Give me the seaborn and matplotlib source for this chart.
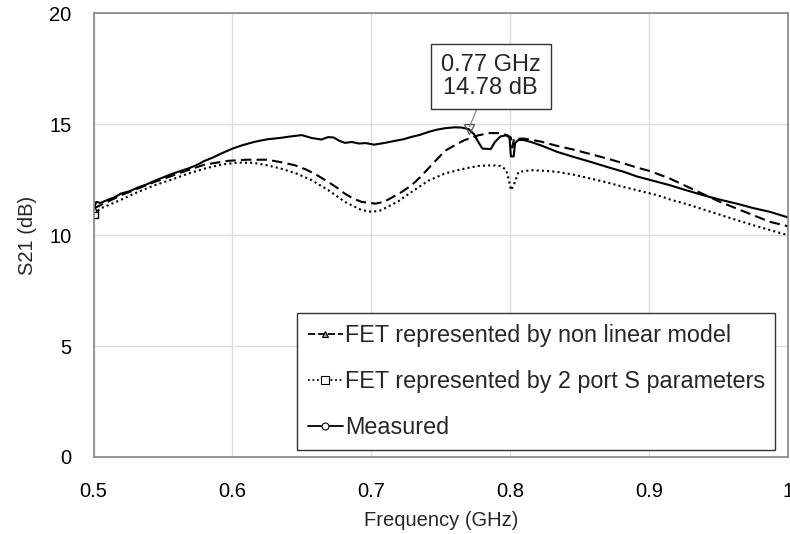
import numpy as np
import pandas as pd
import matplotlib
matplotlib.use("Agg")
import matplotlib.pyplot as plt
from matplotlib.lines import Line2D
import seaborn as sns

# ---- data -------------------------------------------------------------
meas_f = [0.500, 0.502, 0.505, 0.5105, 0.515, 0.520, 0.526, 0.532, 0.538, 0.544,
          0.550, 0.556, 0.562, 0.568, 0.574, 0.580, 0.586, 0.592, 0.600, 0.607,
          0.6155, 0.625, 0.634, 0.642, 0.650, 0.657, 0.664, 0.669, 0.673, 0.677,
          0.681, 0.686, 0.691, 0.696, 0.702, 0.709, 0.717, 0.723, 0.729, 0.735,
          0.741, 0.747, 0.753, 0.760, 0.765, 0.770, 0.774, 0.777, 0.780, 0.786,
          0.789, 0.793, 0.797, 0.7995, 0.8005, 0.8025, 0.8035, 0.806, 0.810, 0.815,
          0.822, 0.834, 0.846, 0.858, 0.870, 0.882, 0.891, 0.900, 0.915, 0.927,
          0.939, 0.951, 0.963, 0.975, 0.987, 1.000]
meas_db = [11.15, 11.50, 11.45, 11.60, 11.70, 11.88, 11.98, 12.15, 12.28, 12.45,
           12.60, 12.75, 12.88, 13.00, 13.15, 13.35, 13.50, 13.68, 13.90, 14.05,
           14.20, 14.32, 14.38, 14.45, 14.51, 14.38, 14.31, 14.42, 14.40, 14.25,
           14.16, 14.20, 14.13, 14.15, 14.08, 14.15, 14.25, 14.32, 14.43, 14.52,
           14.65, 14.75, 14.82, 14.86, 14.85, 14.78, 14.55, 14.20, 13.90, 13.88,
           14.20, 14.45, 14.50, 14.40, 13.55, 13.55, 14.15, 14.30, 14.28, 14.20,
           14.05, 13.75, 13.52, 13.30, 13.07, 12.85, 12.65, 12.50, 12.25, 12.02,
           11.80, 11.60, 11.42, 11.22, 11.05, 10.80]

nl_f = [0.500, 0.520, 0.544, 0.568, 0.580, 0.597, 0.610, 0.625, 0.634, 0.645,
        0.653, 0.661, 0.669, 0.675, 0.681, 0.687, 0.693, 0.703, 0.709, 0.715,
        0.722, 0.729, 0.735, 0.741, 0.747, 0.753, 0.760, 0.767, 0.777, 0.785,
        0.792, 0.798, 0.8005, 0.8015, 0.8028, 0.810, 0.822, 0.834, 0.846, 0.858,
        0.870, 0.882, 0.891, 0.900, 0.915, 0.927, 0.939, 0.951, 0.963, 0.975,
        0.987, 1.000]
nl_db = [11.20, 11.80, 12.40, 12.93, 13.18, 13.35, 13.40, 13.40, 13.30, 13.15,
         12.96, 12.70, 12.40, 12.15, 11.87, 11.65, 11.50, 11.42, 11.50, 11.70,
         11.95, 12.25, 12.60, 13.00, 13.40, 13.80, 14.05, 14.28, 14.50, 14.60,
         14.60, 14.50, 14.40, 13.95, 14.35, 14.35, 14.22, 14.02, 13.85, 13.65,
         13.45, 13.23, 13.05, 12.90, 12.55, 12.20, 11.85, 11.50, 11.20, 10.90,
         10.60, 10.40]

sp_f = [0.500, 0.505, 0.520, 0.532, 0.544, 0.556, 0.568, 0.580, 0.592, 0.604,
        0.615, 0.625, 0.635, 0.646, 0.657, 0.669, 0.681, 0.693, 0.700, 0.706,
        0.712, 0.720, 0.729, 0.741, 0.753, 0.767, 0.777, 0.787, 0.793, 0.797,
        0.799, 0.8005, 0.803, 0.806, 0.815, 0.825, 0.834, 0.846, 0.858, 0.870,
        0.882, 0.891, 0.906, 0.915, 0.927, 0.939, 0.951, 0.963, 0.975, 0.987,
        1.000]
sp_db = [10.95, 11.20, 11.60, 11.95, 12.25, 12.50, 12.77, 13.00, 13.18, 13.27,
         13.26, 13.15, 13.00, 12.78, 12.48, 12.03, 11.50, 11.13, 11.05, 11.10,
         11.28, 11.55, 11.95, 12.45, 12.78, 13.00, 13.12, 13.15, 13.12, 12.95,
         12.50, 12.03, 12.33, 12.85, 12.93, 12.90, 12.85, 12.72, 12.55, 12.37,
         12.17, 12.03, 11.80, 11.61, 11.40, 11.16, 10.92, 10.68, 10.45, 10.23,
         10.00]

marker_f, marker_db = 0.77, 14.78
x_ticks = [0.5, 0.6, 0.7, 0.8, 0.9, 1.0]
x_tick_labels = ["0.5", "0.6", "0.7", "0.8", "0.9", "1"]
y_ticks = [0, 5, 10, 15, 20]

labels = ["FET represented by non linear model",
          "FET represented by 2 port S parameters",
          "Measured"]

# ---- style ------------------------------------------------------------
sns.set_theme(style="whitegrid")
plt.rcParams["font.family"] = ["Liberation Sans", "DejaVu Sans"]
plt.rcParams["axes.edgecolor"] = "#868686"
plt.rcParams["grid.color"] = "#dcdcdc"

fig = plt.figure(figsize=(7.9, 5.34), dpi=100)
ax = fig.add_axes([93.5 / 790, 1 - 457 / 534, (788 - 93.5) / 790, (457 - 13.3) / 534])

nl_style = (0, (5, 2.5))
sp_style = (0, (1, 1.5))

sns.lineplot(x=nl_f, y=nl_db, ax=ax, color="black", lw=1.5, estimator=None,
             linestyle=nl_style)
sns.lineplot(x=sp_f, y=sp_db, ax=ax, color="black", lw=1.5, estimator=None,
             linestyle=sp_style)
sns.lineplot(x=meas_f, y=meas_db, ax=ax, color="black", lw=1.5, estimator=None,
             linestyle="-")

# start-point markers
ax.plot(sp_f[0], sp_db[0], marker="s", ms=6, mfc="white", mec="black", mew=1.0, ls="none")
ax.plot(nl_f[0], nl_db[0], marker="^", ms=5, mfc="white", mec="black", mew=1.0, ls="none")

# highlighted point with its callout
ax.plot(marker_f, marker_db, marker="v", ms=7, mfc="none", mec="#555555", mew=0.9, ls="none")
ax.annotate(f"{marker_f:.2f} GHz\n{marker_db:.2f} dB", xy=(marker_f, marker_db),
            xytext=(0.786, 17.15), ha="center", va="center", fontsize=17,
            linespacing=1.1,
            bbox=dict(boxstyle="square,pad=0.42", fc="white", ec="#333333", lw=1.0),
            arrowprops=dict(arrowstyle="-", color="#808080", lw=0.8,
                            shrinkA=0, shrinkB=2))

ax.set_xlim(0.5, 1.0)
ax.set_ylim(0, 20)
ax.set_xticks(x_ticks)
ax.set_xticklabels(x_tick_labels)
ax.set_yticks(y_ticks)
ax.tick_params(axis="both", labelsize=14.5, colors="black", length=0)
ax.tick_params(axis="x", pad=18)
ax.tick_params(axis="y", pad=16)
ax.set_xlabel("Frequency (GHz)", fontsize=14.5, labelpad=7)
ax.set_ylabel("S21 (dB)", fontsize=14.5, labelpad=9)
for s in ax.spines.values():
    s.set_color("#868686")
    s.set_linewidth(1.2)

handles = [
    Line2D([], [], color="black", lw=1.3, linestyle=(0, (4, 1.5)), marker="^",
           ms=5, mfc="#999999", mec="black", mew=0.8),
    Line2D([], [], color="black", lw=1.3, linestyle=(0, (1, 1.5)), marker="s",
           ms=6, mfc="white", mec="black", mew=0.8),
    Line2D([], [], color="black", lw=1.3, linestyle="-", marker="o",
           ms=5, mfc="white", mec="black", mew=0.8),
]
leg = ax.legend(handles, labels, loc="lower right", bbox_to_anchor=(0.982, 0.016),
                fontsize=16.8, frameon=True, fancybox=False, framealpha=1,
                edgecolor="#333333", handlelength=1.5, handletextpad=0.1,
                labelspacing=1.0, borderpad=0.45, borderaxespad=0)
leg.get_frame().set_linewidth(1.0)

fig.savefig("out.png", dpi=100)
